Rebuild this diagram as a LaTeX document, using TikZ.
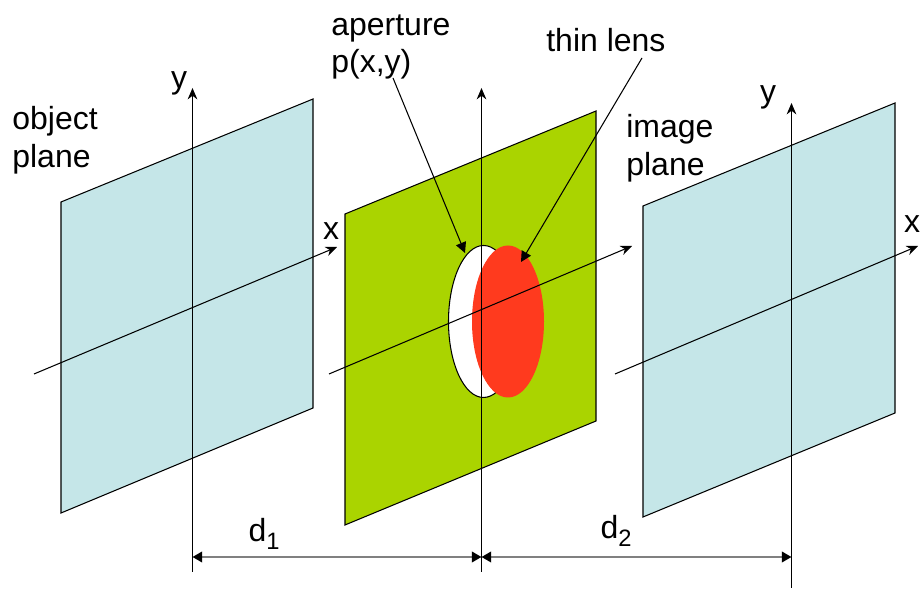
\documentclass[tikz,border=0pt]{standalone}
\usepackage{fontspec}
\setmainfont{Liberation Sans}
\usetikzlibrary{arrows.meta}

\definecolor{planeblue}{RGB}{197,230,232}
\definecolor{lensgreen}{RGB}{170,212,0}
\definecolor{lensred}{RGB}{255,58,30}

\newcommand{\dsub}[1]{d\raisebox{-0.5ex}{\fontsize{13.5}{13.5}\selectfont #1}}

\tikzset{
  plane/.style={draw=black, line width=0.6pt, fill=planeblue},
  axis/.style={-{Stealth[length=6.5pt, width=5.5pt]}, line width=0.6pt},
  pointer/.style={-{Triangle[length=6pt, width=6pt]}, line width=0.6pt},
  dimline/.style={{Triangle[length=5.5pt, width=6pt, black]}-{Triangle[length=5.5pt, width=6pt, black]}, draw=black!50, line width=1.2pt},
  lbl/.style={inner sep=0pt, align=left, font=\fontsize{18.2}{21.6}\selectfont}
}

\begin{document}
\begin{tikzpicture}[x=0.02cm, y=-0.02cm]
  \useasboundingbox (0,0) rectangle (920,590);

  % planes
  \draw[plane] (61,202) -- (313,99) -- (313,408) -- (61,513) -- cycle;
  \draw[plane, fill=lensgreen] (345,214) -- (596,111) -- (596,421) -- (345,525) -- cycle;
  \draw[plane] (643,206) -- (895,103) -- (895,413) -- (643,517) -- cycle;

  % aperture and lens
  \filldraw[fill=white, draw=black, line width=0.6pt] (483.5,321.5) ellipse (35 and 76);
  \fill[lensred] (508,321.5) ellipse (36 and 76);

  % labels
  \node[lbl, anchor=west] (objlabel) at (12,140) {object\\plane};
  \node[lbl, anchor=west] (aplabel) at (331,47) {aperture\\p(x,y)};
  \node[lbl, anchor=west] (lenslabel) at (546,40) {thin lens};
  \node[lbl, anchor=west] (imglabel) at (626,148) {image\\plane};
  \node[lbl] (y1) at (179,83) {y};
  \node[lbl] (x1) at (331,231) {x};
  \node[lbl] (y3) at (768,97) {y};
  \node[lbl] (x3) at (912,224) {x};
  \node[lbl] (d1) at (264,534) {\dsub{1}};
  \node[lbl] (d2) at (616,531) {\dsub{2}};

  % axes
  \coordinate (ya) at (192.5,572);
  \coordinate (yb) at (192.5,88);
  \coordinate (yc) at (481.5,572);
  \coordinate (yd) at (481.5,88);
  \coordinate (ye) at (791.5,588);
  \coordinate (yf) at (791.5,103);
  \draw[axis] (ya) -- (yb);
  \draw[axis] (yc) -- (yd);
  \draw[axis] (ye) -- (yf);

  \coordinate (xa) at (34,374);
  \coordinate (xb) at (337,247);
  \coordinate (xc) at (329,374);
  \coordinate (xd) at (632,246);
  \coordinate (xe) at (615,374);
  \coordinate (xf) at (918,246);
  \draw[axis] (xa) -- (xb);
  \draw[axis] (xc) -- (xd);
  \draw[axis] (xe) -- (xf);

  % pointers to the lens
  \coordinate (aptip) at (465,253);
  \coordinate (lenstip) at (521,262);
  \coordinate (apstart) at (393,78);
  \coordinate (lensstart) at (642,58);
  \draw[pointer] (apstart) -- (aptip);
  \draw[pointer] (lensstart) -- (lenstip);

  % distances
  \coordinate (da) at (192.5,557);
  \coordinate (db) at (481.5,557);
  \coordinate (dc) at (791.5,557);
  \draw[dimline] (da) -- (db);
  \draw[dimline] (db) -- (dc);
\end{tikzpicture}
\end{document}
